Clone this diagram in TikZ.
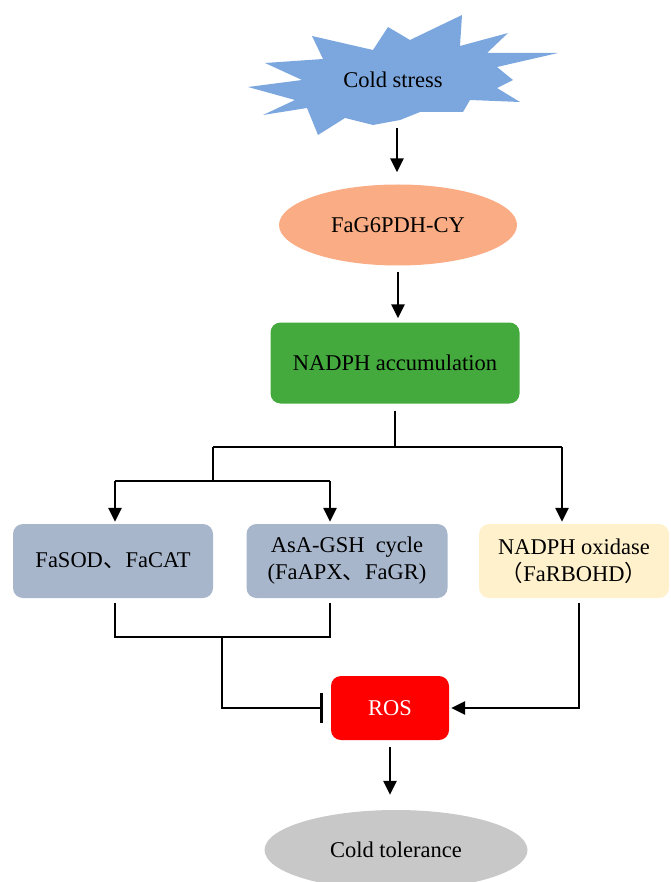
\documentclass[tikz,border=0pt]{standalone}
\usepackage{fontspec}
\setmainfont{Liberation Serif}
\newfontfamily\cjk{Noto Sans CJK SC}
\usetikzlibrary{arrows.meta,shapes.geometric}
\definecolor{starblue}{RGB}{124,167,222}
\definecolor{salmon}{RGB}{250,172,132}
\definecolor{nadphgreen}{RGB}{68,170,62}
\definecolor{slateblue}{RGB}{168,182,204}
\definecolor{cream}{RGB}{255,241,204}
\definecolor{tolgray}{RGB}{200,200,200}
\newcommand{\diagfont}{\fontsize{22.5}{27}\selectfont}

\begin{document}
\begin{tikzpicture}[
  x=1pt, y=-1pt,
  box/.style={rounded corners=10pt, align=center, font=\diagfont,
              minimum height=74pt, inner sep=2pt},
  oval/.style={ellipse, align=center, font=\diagfont, inner sep=0pt},
  ln/.style={line width=2.8pt},
  arr/.style={-{Triangle[width=13pt,length=14pt]}, line width=2.8pt},
  inh/.style={-{Bar[width=30pt]}, line width=2.8pt}
]
\useasboundingbox (0,0) rectangle (670,882);

% cold stress burst
\fill[starblue] (248,87) -- (302,80) -- (265,63) -- (323,59) -- (312,36) -- (373,50)
  -- (388,27) -- (410,40) -- (462,15) -- (460,46) -- (508,33) -- (487,53) -- (558,53)
  -- (497,67) -- (513,80) -- (497,88) -- (520,102) -- (470,100) -- (463,112) -- (420,112)
  -- (400,120) -- (373,125) -- (345,118) -- (318,135) -- (307,108) -- (263,115)
  -- (295,100) -- cycle;
\node[font=\diagfont] (stress) at (393,80) {Cold stress};
\coordinate (stressbot) at (397,128);

\node[oval, fill=salmon, minimum width=238pt, minimum height=81pt] (g6pdh) at (398,225) {FaG6PDH-CY};
\node[box, fill=nadphgreen, minimum width=249pt, minimum height=81pt] (nadph) at (395,363) {NADPH accumulation};

\node[box, fill=slateblue, minimum width=200pt] (sod) at (113,561) {FaSOD{\cjk 、}FaCAT};
\node[box, fill=slateblue, minimum width=201pt] (asa) at (347,561) {AsA-GSH\ \ cycle\\(FaAPX{\cjk 、}FaGR)};
\node[box, fill=cream, minimum width=190pt] (nox) at (574,561) {NADPH oxidase\\{\cjk （}FaRBOHD{\cjk ）}};

\node[box, fill=red, text=white, minimum width=118pt, minimum height=64pt] (ros) at (390,708) {ROS};
\node[oval, fill=tolgray, minimum width=263pt, minimum height=80pt] (tol) at (396,850) {Cold tolerance};

% branch points
\coordinate (split) at (395,447);
\coordinate (lsplit) at (213,447);
\coordinate (rsplit) at (562,447);
\coordinate (lbar) at (115,481);
\coordinate (rbar) at (330,481);
\coordinate (join) at (222,637);
\coordinate (noxdown) at (579,603);

\draw[arr, shorten >=12pt] (stressbot) -- (stressbot |- g6pdh.north);
\draw[arr, shorten <=6pt, shorten >=4pt] (g6pdh.south) -- (g6pdh.south |- nadph.north);
\draw[ln, shorten <=7pt] (nadph.south) -- (split);
\draw[ln] (lsplit) -- (rsplit);
\draw[arr, shorten >=2pt] (rsplit) -- (rsplit |- nox.north);
\draw[ln] (lsplit) -- (lsplit |- lbar);
\draw[ln] (lbar) -- (rbar);
\draw[arr, shorten >=2pt] (lbar) -- (lbar |- sod.north);
\draw[arr, shorten >=2pt] (rbar) -- (rbar |- asa.north);

\draw[ln, shorten <=5pt, shorten >=5pt] (lbar |- sod.south) -- (lbar |- join) -- (rbar |- join) -- (rbar |- asa.south);
\draw[inh, shorten >=8pt] (join) |- (ros.west);
\draw[arr, shorten >=2pt] (noxdown) |- (ros.east);
\draw[arr, shorten <=7pt, shorten >=15pt] (ros.south) -- (ros.south |- tol.north);
\end{tikzpicture}
\end{document}
